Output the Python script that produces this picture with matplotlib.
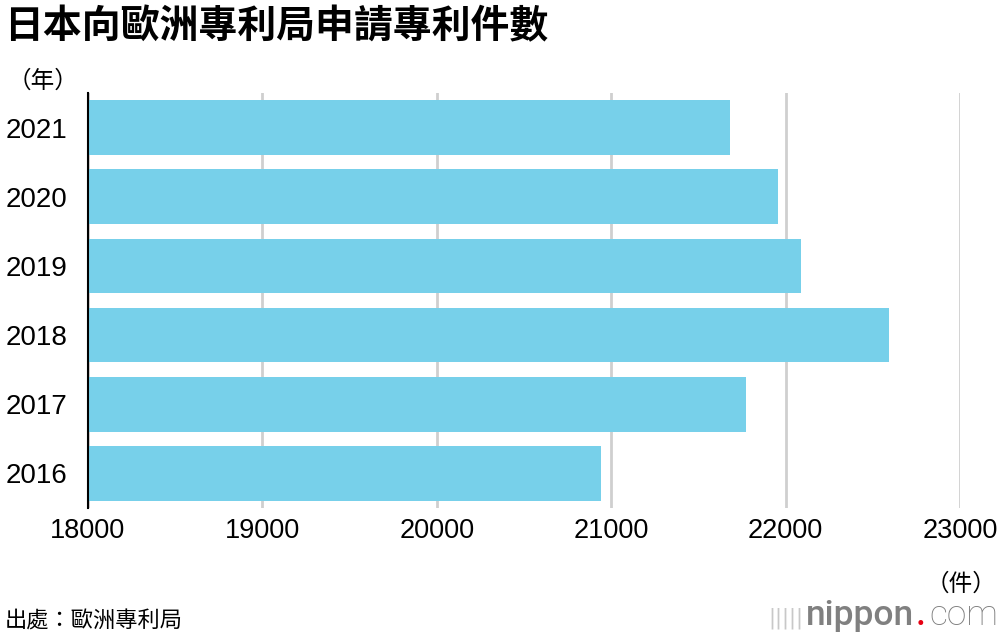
import matplotlib
matplotlib.use('Agg')
import matplotlib.pyplot as plt

plt.rcParams['font.family'] = ['Liberation Sans', 'Noto Sans CJK TC', 'DejaVu Sans']

# data
years = ['2021', '2020', '2019', '2018', '2017', '2016']
counts = [21681, 21956, 22086, 22593, 21774, 20943]
x_ticks = [18000, 19000, 20000, 21000, 22000, 23000]

bar_color = '#77d0ea'
cjk = ['Noto Sans CJK TC', 'DejaVu Sans']

fig = plt.figure(figsize=(10, 6.36), dpi=100)
ax = fig.add_axes([0.088, 0.2013, 0.872, 0.6525])

pos = list(range(len(years)))[::-1]
ax.barh(pos, [c - 18000 for c in counts], left=18000, height=0.79,
        color=bar_color, zorder=3)

ax.set_xlim(18000, 23000)
ax.set_ylim(-0.5, 5.5)
ax.set_xticks(x_ticks)
ax.set_xticklabels([str(t) for t in x_ticks], fontsize=19.5)
ax.set_yticks(pos)
ax.set_yticklabels([])
ax.tick_params(axis='both', length=0, pad=7)

# year labels, left aligned at the figure edge
for p, y in zip(pos, years):
    ax.text(-0.095, p, y, transform=ax.get_yaxis_transform(), fontsize=20,
            ha='left', va='center_baseline')

ax.grid(axis='x', color='#cfcfcf', linewidth=2, zorder=0)
for s in ['top', 'right', 'bottom']:
    ax.spines[s].set_visible(False)
ax.spines['left'].set_color('black')
ax.spines['left'].set_linewidth(1.5)
ax.spines['left'].set_zorder(4)

fig.text(0.004, 0.958, '日本向歐洲專利局申請專利件數', fontsize=28, fontweight='bold',
         family=cjk, va='center', ha='left')
fig.text(0.008, 0.873, '（年）', fontsize=17, family=cjk, va='center', ha='left')
fig.text(0.996, 0.082, '（件）', fontsize=17, family=cjk, va='center', ha='right')
fig.text(0.005, 0.023, '出處：歐洲專利局', fontsize=16, family=cjk, va='center', ha='left')

# nippon.com logo
fig.text(0.768, 0.02, '|||||', fontsize=15, color='#c8c8c8', va='baseline', ha='left',
         family='DejaVu Sans')
fig.text(0.806, 0.017, 'nippon', fontsize=25.5, color='#808080', va='baseline', ha='left',
         family='Roboto', fontweight='medium')
fig.text(0.916, 0.017, '.', fontsize=25.5, color='#e60012', va='baseline', ha='left',
         family='Roboto', fontweight='medium')
fig.text(0.929, 0.017, 'com', fontsize=25.5, color='#808080', va='baseline', ha='left',
         family='Roboto', fontweight='light')

fig.savefig('out.png', dpi=100)
